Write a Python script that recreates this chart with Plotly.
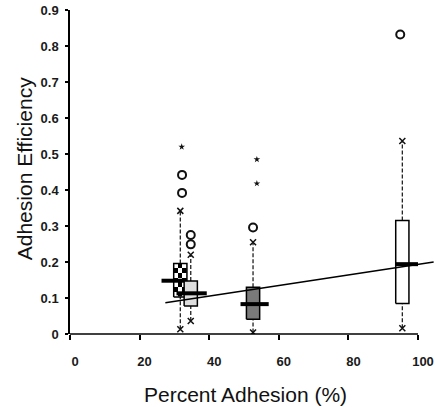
import numpy as np
import plotly.graph_objects as go

# ---- data ----
group_x      = [31.7, 34.7, 52.6, 95.5]
q1           = [0.103, 0.078, 0.041, 0.085]
q3           = [0.196, 0.147, 0.130, 0.315]
median       = [0.148, 0.113, 0.083, 0.194]
median_x0    = [26.3, 30.6, 49.0, 93.4]
median_x1    = [33.5, 39.3, 57.1, 100.0]
whisker_low  = [0.013, 0.036, 0.004, 0.016]
whisker_high = [0.342, 0.220, 0.255, 0.536]
box_fill     = ["checker", "#dedede", "#7a7a7a", "#ffffff"]

circle_x = [32.2, 32.2, 34.7, 34.7, 52.6, 94.9]
circle_y = [0.392, 0.442, 0.249, 0.275, 0.296, 0.832]
star_x   = [32.1, 53.7, 53.7]
star_y   = [0.520, 0.485, 0.418]

fit_slope, fit_intercept = 0.001468, 0.0468
fit_x = [27.4, 104.5]

x_ticks = [0, 20, 40, 60, 80, 100]
y_ticks = [0, 0.1, 0.2, 0.3, 0.4, 0.5, 0.6, 0.7, 0.8, 0.9]

BOX_HALF = 1.9
FONT = "Liberation Sans, Arial, sans-serif"

fig = go.Figure()

for i, gx in enumerate(group_x):
    x0, x1 = gx - BOX_HALF, gx + BOX_HALF
    # whiskers
    for a, b in [(q3[i], whisker_high[i]), (whisker_low[i], q1[i])]:
        fig.add_trace(go.Scatter(x=[gx, gx], y=[a, b], mode="lines",
                                 line=dict(color="#222", width=1.3, dash="4px,2px"),
                                 showlegend=False, hoverinfo="skip"))
    fig.add_trace(go.Scatter(x=[gx, gx], y=[whisker_low[i], whisker_high[i]], mode="markers",
                             marker=dict(symbol="x-thin-open", size=6, color="#111",
                                         line=dict(color="#111", width=1.5)),
                             showlegend=False, hoverinfo="skip"))
    # box
    fill = box_fill[i]
    if fill == "checker":
        ncol, nrow = 3, 7
        z = [[(r + c) % 2 for c in range(ncol)] for r in range(nrow)]
        fig.add_trace(go.Heatmap(x=np.linspace(x0, x1, ncol + 1),
                                 y=np.linspace(q1[i], q3[i], nrow + 1),
                                 z=z, colorscale=[[0, "#ffffff"], [1, "#000000"]],
                                 showscale=False, hoverinfo="skip"))
        fig.add_trace(go.Scatter(x=[x0, x1, x1, x0, x0], y=[q1[i], q1[i], q3[i], q3[i], q1[i]],
                                 mode="lines", line=dict(color="#000", width=1.5),
                                 showlegend=False, hoverinfo="skip"))
    else:
        fig.add_trace(go.Scatter(x=[x0, x1, x1, x0, x0], y=[q1[i], q1[i], q3[i], q3[i], q1[i]],
                                 mode="lines", fill="toself", fillcolor=fill,
                                 line=dict(color="#000", width=1.5),
                                 showlegend=False, hoverinfo="skip"))
    # median
    fig.add_trace(go.Scatter(x=[median_x0[i], median_x1[i]], y=[median[i], median[i]],
                             mode="lines", line=dict(color="#000", width=4),
                             showlegend=False, hoverinfo="skip"))

# outliers
fig.add_trace(go.Scatter(x=circle_x, y=circle_y, mode="markers",
                         marker=dict(symbol="circle-open", size=8, color="#111",
                                     line=dict(color="#111", width=2)),
                         showlegend=False, hoverinfo="skip"))
fig.add_trace(go.Scatter(x=star_x, y=star_y, mode="markers",
                         marker=dict(symbol="star", size=5, color="#111"),
                         showlegend=False, hoverinfo="skip"))

# regression line
fit_y = [fit_intercept + fit_slope * v for v in fit_x]
fig.add_trace(go.Scatter(x=fit_x, y=fit_y, mode="lines",
                         line=dict(color="#000", width=1.5),
                         showlegend=False, hoverinfo="skip"))

# x axis line only from 0 to 100
fig.add_shape(type="line", xref="x", yref="paper", x0=0, x1=100, y0=0, y1=0,
              line=dict(color="#000", width=1.5))

fig.update_layout(
    width=435, height=407,
    margin=dict(l=70, r=1, t=10, b=73),
    plot_bgcolor="white", paper_bgcolor="white",
    font=dict(family=FONT, color="#222"),
    xaxis=dict(range=[0, 104.6], tickvals=x_ticks, showgrid=False, zeroline=False,
               showline=False, ticks="outside", ticklen=5, tickwidth=1.5, tickcolor="#000",
               tickfont=dict(size=13, family=FONT, color="#1a1a1a", weight="bold"),
               ticklabelstandoff=10, ticklabelshift=5, ticklabeloverflow="allow"),
    yaxis=dict(range=[0, 0.9], tickvals=y_ticks, showgrid=False, zeroline=False,
               showline=True, linecolor="#000", linewidth=1.5,
               ticks="outside", ticklen=3, tickwidth=1.5, tickcolor="#000",
               tickfont=dict(size=13, family=FONT, color="#1a1a1a", weight="bold"),
               ticklabelstandoff=4, ticklabeloverflow="allow"),
    annotations=[
        dict(text="Percent Adhesion (%)", xref="paper", yref="paper",
             x=0.481, y=-0.188, xanchor="center", yanchor="middle", showarrow=False,
             font=dict(size=21, family=FONT, color="#111")),
        dict(text="Adhesion Efficiency", xref="paper", yref="paper",
             x=-0.125, y=0.51, xanchor="center", yanchor="middle", showarrow=False,
             textangle=-90, font=dict(size=21, family=FONT, color="#111")),
    ],
)

# remove the browser's default 8px body margin so the figure fills the window
fig.write_html("out.html", config={"displayModeBar": False},
               post_script="document.body.style.margin='0';document.body.style.overflow='hidden';")
